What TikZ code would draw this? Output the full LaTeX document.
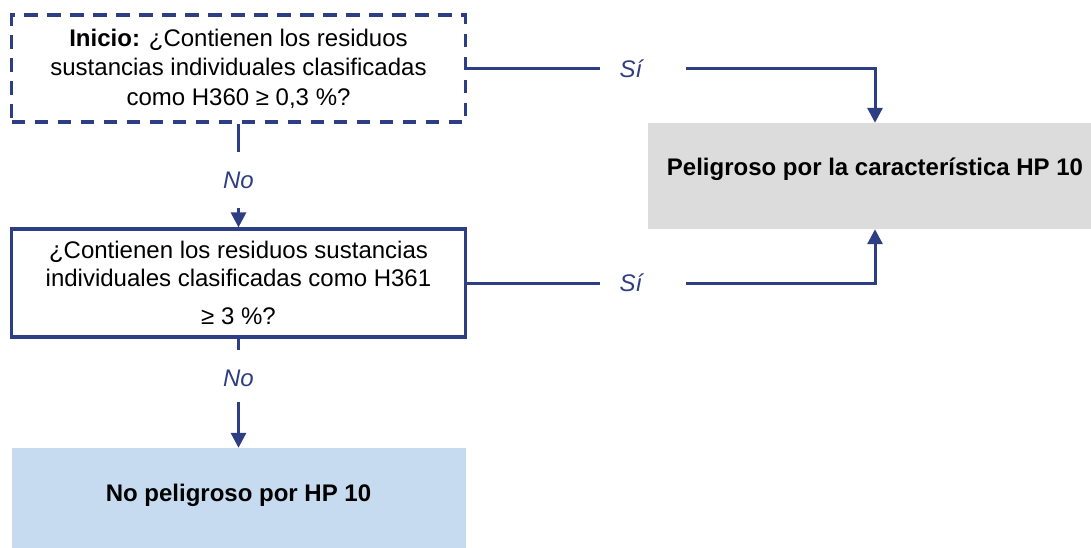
\documentclass[tikz,border=0pt]{standalone}
\usepackage{fontspec}
\setmainfont{Liberation Sans}
\usetikzlibrary{arrows.meta}
\definecolor{navy}{RGB}{46,62,132}
\definecolor{lblue}{RGB}{198,219,239}
\definecolor{lgray}{RGB}{220,220,220}
\begin{document}
\begin{tikzpicture}[x=1pt,y=-1pt,
  box/.style={minimum width=454pt, inner sep=0pt, align=center, font=\fontsize{24}{29.5}\selectfont},
  qbox/.style={box, draw=navy, line width=3.2pt, minimum height=108pt},
  rbox/.style={box, font=\fontsize{24}{29.5}\selectfont\bfseries},
  conn/.style={draw=navy, line width=3pt},
  arr/.style={conn, -{Triangle[width=15pt,length=15pt]}},
  lbl/.style={text=navy, font=\fontsize{24}{28}\selectfont\itshape, inner sep=0pt},
]
\useasboundingbox (0,0) rectangle (1091,547);
% boxes
\node[qbox, dash pattern=on 13.5pt off 9.5pt, minimum height=107pt] (b1) at (238.5,68.5)
  {\textbf{Inicio:} ¿Contienen los residuos\\ sustancias individuales clasificadas\\ como H360 ≥ 0,3 \%?};
\node[qbox] (b2) at (238.5,283)
  {¿Contienen los residuos sustancias\\[-2pt] individuales clasificadas como H361\\[9pt] ≥ 3 \%?};
\node[rbox, fill=lblue, minimum height=102pt, text height=17pt, text depth=12pt] (b3) at (238.5,499)
  {No peligroso por HP 10};
\node[rbox, fill=lgray, minimum height=106pt, text height=17pt, text depth=18pt] (b4) at (875,176)
  {Peligroso por la característica HP 10};
% labels
\node[lbl] (s1) at (631,69) {Sí};
\node[lbl] (s2) at (631,283) {Sí};
\node[lbl] (n1) at (238.5,180) {No};
\node[lbl] (n2) at (238.5,378) {No};
% gap ends
\coordinate (s1a) at (600,68.5);
\coordinate (s1b) at (686,68.5);
\coordinate (s2a) at (600,283);
\coordinate (s2b) at (686,283);
\coordinate (n1a) at (238.5,152);
\coordinate (n1b) at (238.5,208);
\coordinate (n2a) at (238.5,350);
\coordinate (n2b) at (238.5,402);
% connectors
\draw[conn] (b1.east) -- (s1a);
\draw[arr] (s1b) -| (b4.north);
\draw[conn] (b2.east) -- (s2a);
\draw[arr] (s2b) -| (b4.south);
\draw[conn] (b1.south) -- (n1a);
\draw[arr] (n1b) -- (b2.north);
\draw[conn] (b2.south) -- (n2a);
\draw[arr] (n2b) -- (b3.north);
\end{tikzpicture}
\end{document}
